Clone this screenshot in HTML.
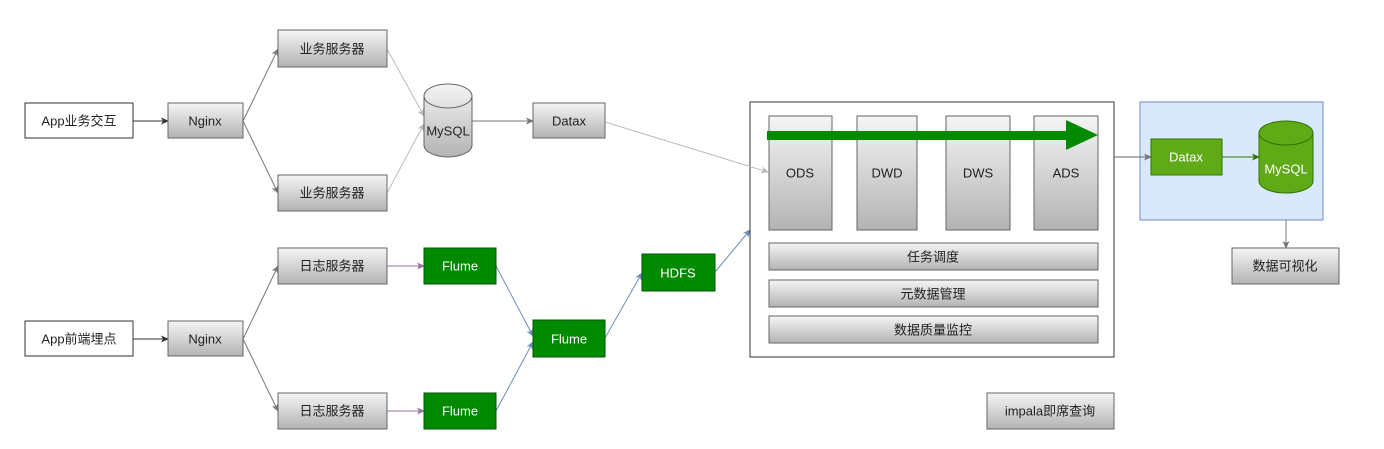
<!DOCTYPE html>
<html><head><meta charset="utf-8"><style>
html,body{margin:0;padding:0;background:#fff;}
svg text{font-family:"Liberation Sans","Noto Sans CJK SC",sans-serif;font-size:13px;text-anchor:middle;dominant-baseline:central;}
</style></head><body>
<svg width="1384" height="444" viewBox="0 0 1384 444" xmlns="http://www.w3.org/2000/svg">
<defs>
<linearGradient id="g" x1="0" y1="0" x2="0" y2="1"><stop offset="0" stop-color="#f5f5f5"/><stop offset="1" stop-color="#b3b3b3"/></linearGradient>
<marker id="a1" markerWidth="8" markerHeight="8" refX="7" refY="4" orient="auto" markerUnits="userSpaceOnUse"><path d="M0,0.5 L8,4 L0,7.5 L2,4z" fill="#333"/></marker>
<marker id="a2" markerWidth="8" markerHeight="8" refX="7" refY="4" orient="auto" markerUnits="userSpaceOnUse"><path d="M0,0.5 L8,4 L0,7.5 L2,4z" fill="#777"/></marker>
<marker id="a3" markerWidth="8" markerHeight="8" refX="7" refY="4" orient="auto" markerUnits="userSpaceOnUse"><path d="M0,0.5 L8,4 L0,7.5 L2,4z" fill="#bbb"/></marker>
<marker id="a4" markerWidth="8" markerHeight="8" refX="7" refY="4" orient="auto" markerUnits="userSpaceOnUse"><path d="M0,0.5 L8,4 L0,7.5 L2,4z" fill="#9673a6"/></marker>
<marker id="a5" markerWidth="8" markerHeight="8" refX="7" refY="4" orient="auto" markerUnits="userSpaceOnUse"><path d="M0,0.5 L8,4 L0,7.5 L2,4z" fill="#6c8ebf"/></marker>
<marker id="a6" markerWidth="8" markerHeight="8" refX="7" refY="4" orient="auto" markerUnits="userSpaceOnUse"><path d="M0,0.5 L8,4 L0,7.5 L2,4z" fill="#2d7600"/></marker>
</defs>
<g fill="none" stroke-width="1">
<path d="M133,121 L168,121" stroke="#333" marker-end="url(#a1)"/>
<path d="M133,339 L168,339" stroke="#333" marker-end="url(#a1)"/>
<path d="M243,121 L278,49" stroke="#777" marker-end="url(#a2)"/>
<path d="M243,121 L278,193" stroke="#777" marker-end="url(#a2)"/>
<path d="M243,339 L278,266" stroke="#777" marker-end="url(#a2)"/>
<path d="M243,339 L278,411" stroke="#777" marker-end="url(#a2)"/>
<path d="M387,49 L424,116" stroke="#bbb" marker-end="url(#a3)"/>
<path d="M387,193 L424,124" stroke="#bbb" marker-end="url(#a3)"/>
<path d="M472,121 L533,121" stroke="#777" marker-end="url(#a2)"/>
<path d="M387,266 L424,266" stroke="#9673a6" marker-end="url(#a4)"/>
<path d="M387,411 L424,411" stroke="#9673a6" marker-end="url(#a4)"/>
<path d="M496,266 L533,336" stroke="#6c8ebf" marker-end="url(#a5)"/>
<path d="M496,411 L533,342" stroke="#6c8ebf" marker-end="url(#a5)"/>
<path d="M605,338 L642,273" stroke="#6c8ebf" marker-end="url(#a5)"/>
<path d="M715,272 L750,230" stroke="#6c8ebf" marker-end="url(#a5)"/>
<path d="M1286,193 L1286,248" stroke="#777" marker-end="url(#a2)"/>
</g>
<g stroke="#666" fill="url(#g)">
<rect x="168" y="103" width="75" height="35"/>
<rect x="168" y="321" width="75" height="35"/>
<rect x="278" y="30" width="109" height="37"/>
<rect x="278" y="175" width="109" height="36"/>
<rect x="278" y="248" width="109" height="36"/>
<rect x="278" y="393" width="109" height="36"/>
<rect x="533" y="103" width="72" height="35"/>
<rect x="987" y="393" width="127" height="36"/>
<rect x="1232" y="248" width="107" height="36"/>
</g>
<rect x="25" y="103" width="108" height="35" fill="#fff" stroke="#333"/>
<rect x="25" y="321" width="108" height="35" fill="#fff" stroke="#333"/>
<path d="M424,96 v49 a24,12 0 0 0 48,0 v-49 a24,12 0 0 0 -48,0z" fill="url(#g)" stroke="#666"/>
<path d="M424,96 a24,12 0 0 0 48,0" fill="none" stroke="#666"/>
<g fill="#008a00" stroke="#005700">
<rect x="424" y="248" width="72" height="36"/>
<rect x="424" y="393" width="72" height="36"/>
<rect x="533" y="320" width="72" height="37"/>
<rect x="642" y="254" width="73" height="37"/>
</g>
<rect x="750" y="102" width="364" height="255" fill="#fff" stroke="#333"/>
<g stroke="#666" fill="url(#g)">
<rect x="769" y="116" width="63" height="114"/>
<rect x="857" y="116" width="60" height="114"/>
<rect x="946" y="116" width="64" height="114"/>
<rect x="1034" y="116" width="64" height="114"/>
<rect x="769" y="243" width="329" height="27"/>
<rect x="769" y="280" width="329" height="27"/>
<rect x="769" y="316" width="329" height="27"/>
</g>
<path d="M767,131 L1066,131 L1066,120 L1098,135 L1066,150 L1066,140 L767,140z" fill="#008a00"/>
<rect x="1140" y="102" width="183" height="118" fill="#dae8fc" stroke="#6c8ebf"/>
<g fill="none">
<path d="M605,122 L768,172" stroke="#bbb" marker-end="url(#a3)"/>
<path d="M1114,157 L1151,157" stroke="#666" marker-end="url(#a2)"/>
<path d="M1222,157 L1259,157" stroke="#2d7600" marker-end="url(#a6)"/>
</g>
<rect x="1151" y="139" width="71" height="36" fill="#60a917" stroke="#2d7600"/>
<path d="M1259,133 v48 a27,12 0 0 0 54,0 v-48 a27,12 0 0 0 -54,0z" fill="#60a917" stroke="#2d7600"/>
<path d="M1259,133 a27,12 0 0 0 54,0" fill="none" stroke="#2d7600"/>
<g fill="#222">
<text x="79" y="121">App业务交互</text>
<text x="79" y="339">App前端埋点</text>
<text x="205" y="121">Nginx</text>
<text x="205" y="339">Nginx</text>
<text x="332" y="49">业务服务器</text>
<text x="332" y="193">业务服务器</text>
<text x="332" y="266">日志服务器</text>
<text x="332" y="411">日志服务器</text>
<text x="448" y="131">MySQL</text>
<text x="569" y="121">Datax</text>
<text x="800" y="173">ODS</text>
<text x="887" y="173">DWD</text>
<text x="978" y="173">DWS</text>
<text x="1066" y="173">ADS</text>
<text x="933" y="257">任务调度</text>
<text x="933" y="294">元数据管理</text>
<text x="933" y="330">数据质量监控</text>
<text x="1050" y="411">impala即席查询</text>
<text x="1285" y="266">数据可视化</text>
</g>
<g fill="#fff">
<text x="460" y="266">Flume</text>
<text x="460" y="411">Flume</text>
<text x="569" y="339">Flume</text>
<text x="678" y="273">HDFS</text>
<text x="1186" y="157">Datax</text>
<text x="1286" y="169">MySQL</text>
</g>
</svg>
</body></html>
